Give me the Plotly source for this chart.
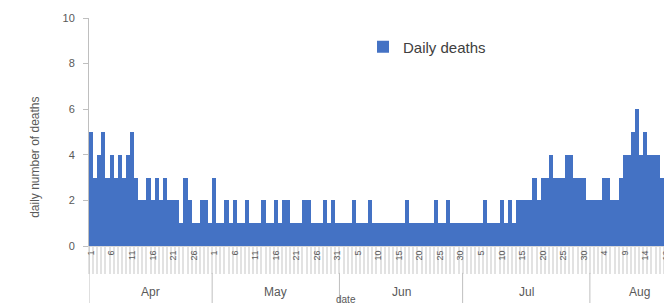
import plotly.graph_objects as go
import pandas as pd

# ---- data ----
months = ["Apr", "May", "Jun", "Jul", "Aug"]
month_days = [30, 31, 30, 31, 24]          # category span of each month on the axis
start_date = "2020-04-01"
deaths = [
    5, 3, 4, 5, 3, 4, 3, 4, 3, 4, 5,
    3, 2, 2, 3, 2, 3, 2, 3, 2, 2, 2,
    1, 3, 2, 1, 1, 2, 2, 1,
    3, 1, 1, 2, 1, 2, 1, 1, 2, 1,
    1, 1, 2, 1, 1, 2, 1, 2, 2, 1,
    1, 1, 2, 2, 1, 1, 1, 2, 1, 2,
    1, 1, 1, 1, 2, 1, 1, 1, 2, 1,
    1, 1, 1, 1, 1, 1, 1, 2, 1, 1,
    1, 1, 1, 1, 2, 1, 1, 2, 1, 1,
    1, 1, 1, 1, 1, 1, 2, 1, 1, 1,
    2, 1, 2, 1, 2, 2, 2, 2, 3, 2,
    3, 3, 4, 3, 3, 3, 4, 4, 3, 3,
    3, 2, 2, 2, 2, 3, 3, 2, 2, 3,
    4, 4, 5, 6, 4, 5, 4, 4, 4, 3, 3, 3,
]
label_every = 5
y_ticks = [0, 2, 4, 6, 8, 10]

dates = pd.date_range(start_date, periods=len(deaths), freq="D")
idx = list(range(len(deaths)))
tick_idx = idx[::label_every]
tick_text = [str(dates[i].day) for i in tick_idx]

TXT = "#595959"
GRID = "#bfbfbf"
FONT = "Liberation Sans"

fig = go.Figure()
fig.add_trace(go.Bar(
    x=idx, y=deaths, name="Daily deaths",
    marker=dict(color="#4472C4", line=dict(width=0)),
    width=1.0,
))

# month boundaries / centres
bounds = [-0.5]
for n in month_days:
    bounds.append(bounds[-1] + n)
centres = [(bounds[i] + bounds[i + 1]) / 2 for i in range(len(months))]

shapes = []
for b in bounds[1:-1]:
    shapes.append(dict(type="line", xref="x", yref="paper", x0=b, x1=b,
                       y0=-0.118, y1=-0.25, line=dict(color=GRID, width=1)))
shapes.append(dict(type="line", xref="x", yref="paper", x0=-0.5, x1=-0.5,
                   y0=0, y1=-0.25, line=dict(color=GRID, width=1)))

annotations = []
for m, c in zip(months, centres):
    annotations.append(dict(x=c, y=-0.20, xref="x", yref="paper", text=m,
                            showarrow=False, font=dict(size=12, color=TXT, family=FONT),
                            xanchor="center", yanchor="middle"))
annotations.append(dict(x=-0.093, y=0.39, xref="paper", yref="paper",
                        text="daily number of deaths", textangle=-90, showarrow=False,
                        font=dict(size=12, color=TXT, family=FONT),
                        xanchor="center", yanchor="middle"))
annotations.append(dict(x=0.441, y=-0.235, xref="paper", yref="paper", text="date",
                        showarrow=False, font=dict(size=10, color=TXT, family=FONT),
                        xanchor="center", yanchor="middle"))

# the page has an 8px body margin, so the figure is laid out 8px up/left
fig.update_layout(
    width=672, height=306,
    margin=dict(l=81, r=8, t=10, b=68, autoexpand=False),
    paper_bgcolor="white", plot_bgcolor="white",
    bargap=0,
    font=dict(family=FONT, color=TXT, size=12),
    showlegend=True,
    legend=dict(x=0.47, y=0.945, xanchor="left", yanchor="top",
                font=dict(size=15, color="#404040", family=FONT),
                bgcolor="rgba(0,0,0,0)"),
    xaxis=dict(
        range=[-0.5, len(deaths) - 0.5], automargin=False,
        tickmode="array", tickvals=tick_idx, ticktext=tick_text,
        tickangle=-90, ticks="", showgrid=False, zeroline=False,
        showline=True, linecolor="#d9d9d9",
        tickfont=dict(size=9, color=TXT, family=FONT),
        minor=dict(ticks="outside", ticklen=27, tickcolor="#e2e2e2", tickwidth=2,
                   tickmode="linear", tick0=-0.5, dtick=1, showgrid=False),
    ),
    yaxis=dict(
        range=[0, 10], tickvals=y_ticks, ticks="outside", ticklen=5, automargin=False,
        tickcolor=GRID, showline=True, linecolor=GRID, showgrid=False,
        zeroline=False, tickfont=dict(size=11, color=TXT, family=FONT),
        ticklabelstandoff=6,
    ),
    shapes=shapes, annotations=annotations,
)

fig.write_html("out.html")
